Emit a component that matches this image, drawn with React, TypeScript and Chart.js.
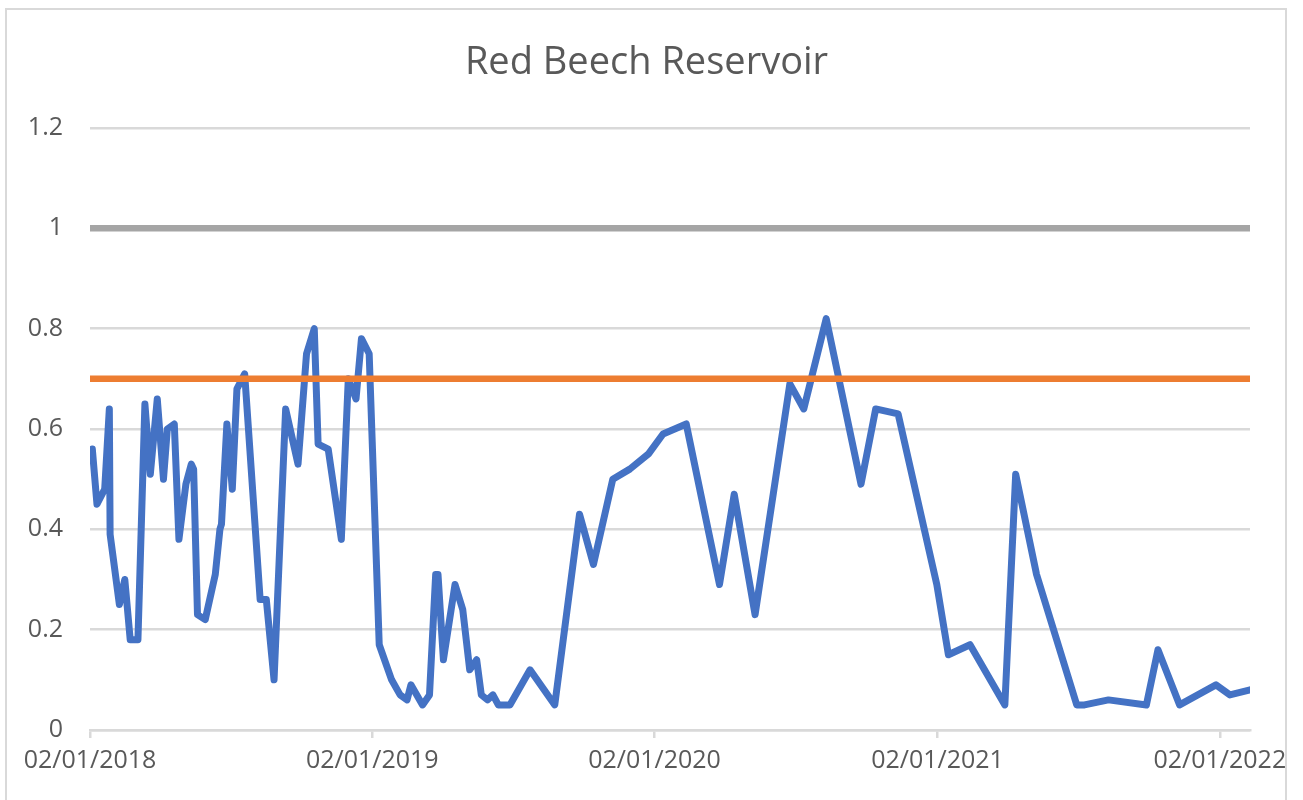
import { useEffect, useRef } from "react";
import { Chart, registerables } from "chart.js";

Chart.register(...registerables);

const TITLE = "Red Beech Reservoir";

const sampleDates: string[] = [
  "2018-01-05", "2018-01-11", "2018-01-21", "2018-01-27", "2018-01-28", "2018-02-09",
  "2018-02-16", "2018-02-23", "2018-03-05", "2018-03-14", "2018-03-21", "2018-03-30",
  "2018-04-07", "2018-04-12", "2018-04-21", "2018-04-27", "2018-05-06", "2018-05-13",
  "2018-05-16", "2018-05-21", "2018-05-31", "2018-06-13", "2018-06-19", "2018-06-21",
  "2018-06-28", "2018-07-05", "2018-07-11", "2018-07-21", "2018-08-10", "2018-08-18",
  "2018-08-28", "2018-09-12", "2018-09-28", "2018-10-09", "2018-10-19", "2018-10-24",
  "2018-11-06", "2018-11-23", "2018-12-02", "2018-12-12", "2018-12-19", "2018-12-29",
  "2019-01-11", "2019-01-27", "2019-02-07", "2019-02-16", "2019-02-21", "2019-03-08",
  "2019-03-17", "2019-03-25", "2019-03-28", "2019-04-04", "2019-04-19", "2019-04-29",
  "2019-05-08", "2019-05-17", "2019-05-23", "2019-05-31", "2019-06-07", "2019-06-14",
  "2019-06-29", "2019-07-25", "2019-08-26", "2019-09-27", "2019-10-15", "2019-11-09",
  "2019-12-01", "2019-12-25", "2020-01-13", "2020-02-12", "2020-03-26", "2020-04-14",
  "2020-05-11", "2020-06-25", "2020-07-13", "2020-08-11", "2020-09-25", "2020-10-14",
  "2020-11-12", "2021-01-01", "2021-01-16", "2021-02-13", "2021-03-30", "2021-04-13",
  "2021-05-10", "2021-07-01", "2021-07-11", "2021-08-11", "2021-09-29", "2021-10-14",
  "2021-11-11", "2021-12-28", "2022-01-15", "2022-02-10",
];

const sampleValues: number[] = [
  0.56, 0.45, 0.48, 0.64, 0.39, 0.25,
  0.30, 0.18, 0.18, 0.65, 0.51, 0.66,
  0.50, 0.60, 0.61, 0.38, 0.49, 0.53,
  0.52, 0.23, 0.22, 0.31, 0.40, 0.41,
  0.61, 0.48, 0.68, 0.71, 0.26, 0.26,
  0.10, 0.64, 0.53, 0.75, 0.80, 0.57,
  0.56, 0.38, 0.70, 0.66, 0.78, 0.75,
  0.17, 0.10, 0.07, 0.06, 0.09, 0.05,
  0.07, 0.31, 0.31, 0.14, 0.29, 0.24,
  0.12, 0.14, 0.07, 0.06, 0.07, 0.05,
  0.05, 0.12, 0.05, 0.43, 0.33, 0.50,
  0.52, 0.55, 0.59, 0.61, 0.29, 0.47,
  0.23, 0.69, 0.64, 0.82, 0.49, 0.64,
  0.63, 0.29, 0.15, 0.17, 0.05, 0.51,
  0.31, 0.05, 0.05, 0.06, 0.05, 0.16,
  0.05, 0.09, 0.07, 0.08,
];

const limitDates: string[] = ["2018-01-02", "2022-02-10"];
const upperLimit: number[] = [1, 1];
const triggerLimit: number[] = [0.7, 0.7];

const tickDates: string[] = ["2018-01-02", "2019-01-02", "2020-01-02", "2021-01-02", "2022-01-02"];
const yTicks: number[] = [0, 0.2, 0.4, 0.6, 0.8, 1, 1.2];

const toMs = (s: string) => {
  const [y, m, d] = s.split("-").map(Number);
  return Date.UTC(y, m - 1, d);
};
const pad = (n: number) => (n < 10 ? "0" + n : "" + n);
const fmt = (ms: number) => {
  const d = new Date(ms);
  return pad(d.getUTCDate()) + "/" + pad(d.getUTCMonth() + 1) + "/" + d.getUTCFullYear();
};

// Centre the title over the whole chart frame rather than the padded layout box.
const titleShift = {
  id: "titleShift",
  afterLayout(chart: any) {
    if (chart.titleBlock) {
      chart.titleBlock.left = 43;
    }
  },
};

export default function App() {
  const ref = useRef<HTMLCanvasElement>(null);

  useEffect(() => {
    if (!ref.current) return;
    Chart.defaults.font.family = "'Open Sans', sans-serif";
    const chart = new Chart(ref.current, {
      type: "line",
      data: {
        datasets: [
          {
            label: "Sample",
            data: sampleDates.map((d, i) => ({ x: toMs(d), y: sampleValues[i] })),
            borderColor: "#4472C4",
            backgroundColor: "#4472C4",
            borderWidth: 7,
            pointRadius: 0,
            tension: 0,
            borderJoinStyle: "round",
            borderCapStyle: "round",
            order: 3,
          },
          {
            label: "Limit",
            data: limitDates.map((d, i) => ({ x: toMs(d), y: upperLimit[i] })),
            borderColor: "#A5A5A5",
            backgroundColor: "#A5A5A5",
            borderWidth: 6.5,
            pointRadius: 0,
            order: 2,
          },
          {
            label: "Trigger",
            data: limitDates.map((d, i) => ({ x: toMs(d), y: triggerLimit[i] })),
            borderColor: "#ED7D31",
            backgroundColor: "#ED7D31",
            borderWidth: 6.5,
            pointRadius: 0,
            order: 1,
          },
        ],
      },
      plugins: [titleShift],
      options: {
        responsive: false,
        animation: false,
        devicePixelRatio: 1,
        layout: { padding: { left: 0, right: 53, top: 0, bottom: 0 } },
        plugins: {
          legend: { display: false },
          tooltip: { enabled: false },
          title: {
            display: true,
            text: TITLE,
            color: "#595959",
            font: { family: "'Open Sans', sans-serif", size: 38, weight: "normal", lineHeight: 1.2 },
            padding: { top: 40, bottom: 42.4 },
          },
        },
        scales: {
          x: {
            type: "linear",
            min: toMs(limitDates[0]),
            max: toMs(limitDates[1]),
            afterBuildTicks: (scale: any) => {
              scale.ticks = tickDates.map((d) => ({ value: toMs(d) }));
            },
            afterFit: (scale: any) => {
              scale.height = 70;
            },
            ticks: {
              autoSkip: false,
              maxRotation: 0,
              minRotation: 0,
              padding: 8,
              color: "#595959",
              font: { size: 25 },
              callback: (v: any) => fmt(Number(v)),
            },
            grid: {
              drawOnChartArea: false,
              drawTicks: true,
              tickLength: 8,
              color: "#D9D9D9",
              lineWidth: 2.5,
            },
            border: { display: true, color: "#D9D9D9", width: 2.5 },
          },
          y: {
            type: "linear",
            min: 0,
            max: 1.2,
            afterBuildTicks: (scale: any) => {
              scale.ticks = yTicks.map((v) => ({ value: v }));
            },
            afterFit: (scale: any) => {
              scale.width = 90;
            },
            ticks: {
              padding: 27,
              color: "#595959",
              font: { size: 25 },
              callback: (v: any) => String(Number(Number(v).toFixed(1))),
            },
            grid: {
              drawTicks: false,
              color: "#D9D9D9",
              lineWidth: 2.5,
            },
            border: { display: false },
          },
        },
      },
    } as any);
    return () => chart.destroy();
  }, []);

  return (
    <div
      style={{
        position: "fixed",
        left: 0,
        top: 0,
        width: 1303,
        height: 800,
        background: "#ffffff",
        overflow: "hidden",
      }}
    >
      <div style={{ position: "absolute", left: 0, top: 0, width: 1285, height: 800, overflow: "hidden" }}>
        <canvas ref={ref} width={1303} height={800} style={{ display: "block" }} />
      </div>
      <div
        style={{
          position: "absolute",
          left: 5,
          top: 8,
          width: 1282,
          height: 900,
          border: "2px solid #D9D9D9",
          boxSizing: "border-box",
          pointerEvents: "none",
        }}
      />
    </div>
  );
}
